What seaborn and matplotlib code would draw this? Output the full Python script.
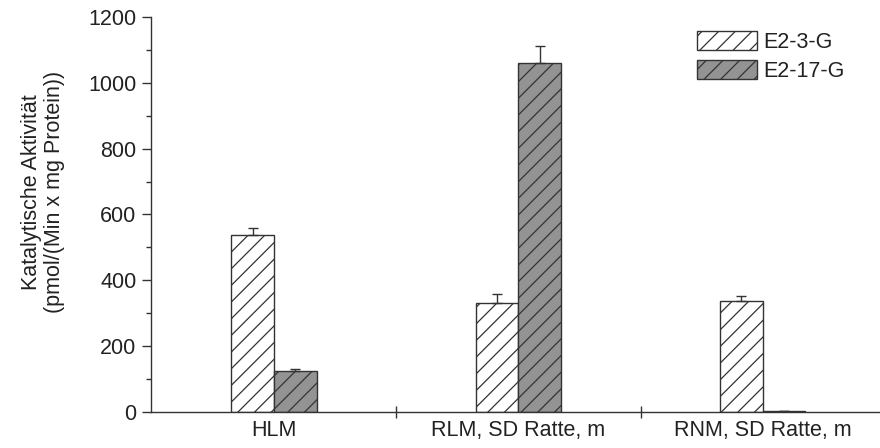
import matplotlib
matplotlib.use("Agg")
import matplotlib.pyplot as plt
from matplotlib.patches import Patch
from matplotlib.ticker import MultipleLocator, FixedLocator
import numpy as np
import pandas as pd
import seaborn as sns

# ---- data ----
categories = ["HLM", "RLM, SD Ratte, m", "RNM, SD Ratte, m"]
series = ["E2-3-G", "E2-17-G"]
e2_3_g = [538, 330, 337]
e2_17_g = [126, 1060, 3]
e2_3_g_err = [22, 27, 15]
e2_17_g_err = [5, 52, 1]
y_ticks = [0, 200, 400, 600, 800, 1000, 1200]
y_label = "Katalytische Aktivität\n(pmol/(Min x mg Protein))"

df = pd.DataFrame({
    "sample": categories * 2,
    "substrate": [series[0]] * 3 + [series[1]] * 3,
    "value": e2_3_g + e2_17_g,
})
errors = [e2_3_g_err, e2_17_g_err]

sns.set_style("ticks")
plt.rcParams["font.family"] = ["Liberation Sans", "DejaVu Sans"]
plt.rcParams["hatch.color"] = "#333333"
plt.rcParams["hatch.linewidth"] = 0.9

dark = "#333333"
colors = ["#ffffff", "#939393"]
hatch = "//"
fs = 15.5

fig = plt.figure(figsize=(8.8, 4.48), dpi=100)
ax = fig.add_axes([151 / 880, 1 - 412 / 448, 729 / 880, (412 - 17) / 448])

sns.barplot(data=df, x="sample", y="value", hue="substrate", order=categories,
            hue_order=series, palette=colors, saturation=1, width=0.35,
            edgecolor=dark, linewidth=1.0, ax=ax, legend=False, errorbar=None)

for cont, err in zip(ax.containers, errors):
    xs, ys = [], []
    for bar in cont:
        bar.set_hatch(hatch)
        xs.append(bar.get_x() + bar.get_width() / 2)
        ys.append(bar.get_height())
    ax.errorbar(xs, ys, yerr=[np.zeros(len(err)), err], fmt="none",
                ecolor=dark, elinewidth=1.0, capsize=3.3, capthick=1.0, zorder=3)

ax.set_xlim(-0.503, 2.48)
ax.set_ylim(0, 1200)
ax.set_yticks(y_ticks)
ax.yaxis.set_minor_locator(MultipleLocator(100))
ax.xaxis.set_minor_locator(FixedLocator([0.5, 1.5]))

ax.set_xlabel("")
ax.set_ylabel(y_label, fontsize=fs, color="#222222", linespacing=1.15)
ax.yaxis.set_label_coords(-0.118, 0.557)

for s in ["top", "right"]:
    ax.spines[s].set_visible(False)
for s in ["left", "bottom"]:
    ax.spines[s].set_color(dark)
    ax.spines[s].set_linewidth(1.0)

ax.tick_params(axis="y", which="major", direction="out", length=6.5, width=1.0,
               color=dark, labelsize=fs, labelcolor="#222222", pad=4)
ax.tick_params(axis="y", which="minor", direction="out", length=3.4, width=1.0, color=dark)
ax.tick_params(axis="x", which="major", length=0, labelsize=fs, labelcolor="#222222", pad=6)
ax.tick_params(axis="x", which="minor", direction="inout", length=8, width=1.0, color=dark)

handles = [Patch(facecolor=c, edgecolor=dark, hatch=hatch, linewidth=1.0) for c in colors]
fig.legend(handles, series, loc="upper left", bbox_to_anchor=(697 / 880, 1 - 31 / 448),
           frameon=False, fontsize=fs, handlelength=2.8, handleheight=0.95,
           handletextpad=0.3, labelspacing=0.35, borderpad=0, borderaxespad=0,
           labelcolor="#222222")

fig.savefig("out.png", dpi=100)
